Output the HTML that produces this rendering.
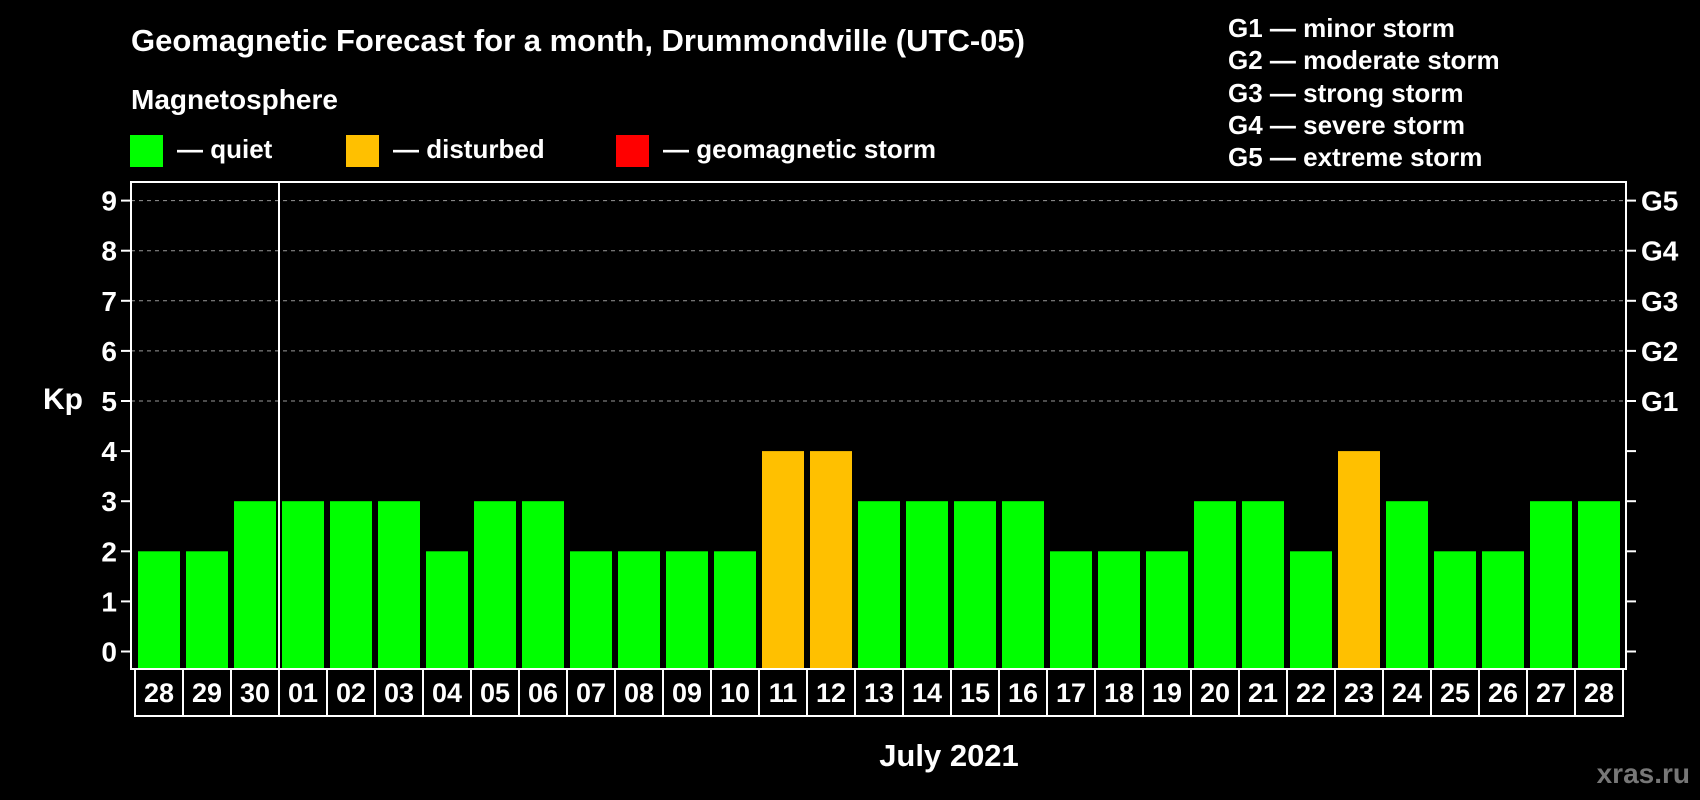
<!DOCTYPE html>
<html><head><meta charset="utf-8"><style>
html,body{margin:0;padding:0;background:#000;}
svg{display:block;font-family:"Liberation Sans",sans-serif;font-weight:bold;}
</style></head><body>
<svg id="chart" width="1700" height="800" viewBox="0 0 1700 800">
<text x="131" y="51" fill="#fff" font-size="31">Geomagnetic Forecast for a month, Drummondville (UTC-05)</text>
<text x="131" y="109" fill="#fff" font-size="28">Magnetosphere</text>
<g><rect x="130" y="135" width="33" height="32" fill="#00ff00"/><text x="177" y="158" fill="#fff" font-size="26">— quiet</text></g>
<g><rect x="346" y="135" width="33" height="32" fill="#ffc000"/><text x="393" y="158" fill="#fff" font-size="26">— disturbed</text></g>
<g><rect x="616" y="135" width="33" height="32" fill="#ff0000"/><text x="663" y="158" fill="#fff" font-size="26">— geomagnetic storm</text></g>
<g fill="#fff" font-size="26">
<text x="1228" y="37">G1 — minor storm</text>
<text x="1228" y="69">G2 — moderate storm</text>
<text x="1228" y="102">G3 — strong storm</text>
<text x="1228" y="134">G4 — severe storm</text>
<text x="1228" y="166">G5 — extreme storm</text>
</g>
<text x="63" y="409" fill="#fff" font-size="30" text-anchor="middle">Kp</text>
<text x="949" y="766" fill="#fff" font-size="31" text-anchor="middle">July 2021</text>
<text x="1690" y="783" fill="#777" font-size="28" text-anchor="end">xras.ru</text>
<g id="grid"></g><g id="bars"></g><g id="labels"></g><g id="axes"></g>
</svg>
<script>
const days=["28","29","30","01","02","03","04","05","06","07","08","09","10","11","12","13","14","15","16","17","18","19","20","21","22","23","24","25","26","27","28"];
const kp=[2,2,3,3,3,3,2,3,3,2,2,2,2,4,4,3,3,3,3,2,2,2,3,3,2,4,3,2,2,3,3];
const yTicks=[0,1,2,3,4,5,6,7,8,9];
const gLabels=["G1","G2","G3","G4","G5"];
const gLevels=[5,6,7,8,9];
const NS="http://www.w3.org/2000/svg";
const L=131,R=1626,T=182,B=669;
const y=v=>651.5-v*50.1;
const x=i=>138+i*48;
function mk(tag,attrs,parent){const e=document.createElementNS(NS,tag);for(const k in attrs)e.setAttribute(k,attrs[k]);parent.appendChild(e);return e;}
const grid=document.getElementById('grid'),bars=document.getElementById('bars'),labels=document.getElementById('labels'),axes=document.getElementById('axes');
gLevels.forEach((v,i)=>{
 const l=mk('line',{x1:L,x2:R,y1:y(v),y2:y(v),stroke:'#999','stroke-dasharray':'4,4','stroke-width':1},grid);
 
 
 const t=mk('text',{x:R+15,y:y(v)+10,fill:'#fff','font-size':28},axes);t.textContent=gLabels[i];
 
 
});
kp.forEach((v,i)=>{
 const r=mk('rect',{x:x(i),y:y(v),width:42,height:B-y(v),fill:v>=5?'#ff0000':(v>=4?'#ffc000':'#00ff00')},bars);
 
 
 const t=mk('text',{x:x(i)+21,y:702,fill:'#fff','font-size':27,'text-anchor':'middle'},labels);t.textContent=days[i];
 
 
 if(i>0){const s=mk('line',{x1:x(i)-3,x2:x(i)-3,y1:B,y2:716,stroke:'#fff','stroke-width':2},labels);
 
 }
});
const box=mk('rect',{x:135,y:B,width:1488,height:47,fill:'none',stroke:'#fff','stroke-width':2},labels);


yTicks.forEach(v=>{
 mk('line',{x1:121,x2:L,y1:y(v),y2:y(v),stroke:'#fff','stroke-width':2},axes);
 mk('line',{x1:R,x2:R+10,y1:y(v),y2:y(v),stroke:'#fff','stroke-width':2},axes);
 const t=mk('text',{x:117,y:y(v)+10,fill:'#fff','font-size':28,'text-anchor':'end'},axes);t.textContent=v;
 
 
});
const fr=mk('rect',{x:L,y:T,width:R-L,height:B-T,fill:'none',stroke:'#fff','stroke-width':2},axes);


const ml=mk('line',{x1:x(3)-3,x2:x(3)-3,y1:T,y2:B,stroke:'#fff','stroke-width':2},axes);


</script>
</body></html>
